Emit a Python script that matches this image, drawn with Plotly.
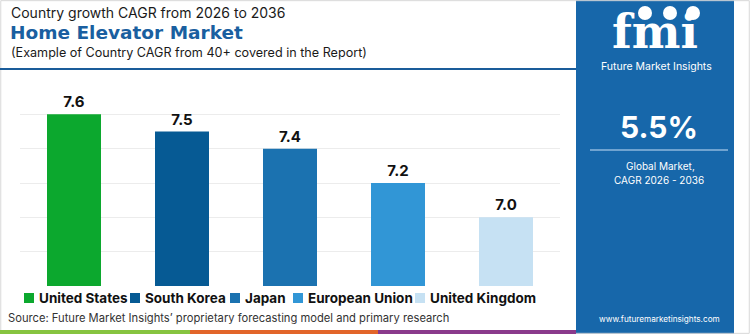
import plotly.graph_objects as go

categories = ["United States", "South Korea", "Japan", "European Union", "United Kingdom"]
values = [7.6, 7.5, 7.4, 7.2, 7.0]
colors = ["#0ca82e", "#065a94", "#1b72b0", "#3196d6", "#c6e1f3"]
value_labels = ["7.6", "7.5", "7.4", "7.2", "7.0"]

W, H = 750, 334
def px(x):
    return x / W
def py(y):
    return 1 - y / H

FONT = "Inter"
fig = go.Figure()
for c, v, col, lab in zip(categories, values, colors, value_labels):
    fig.add_trace(go.Bar(
        x=[c], y=[v], name=c, marker=dict(color=col, line=dict(width=0)),
        width=0.5, text=[lab], textposition="outside",
        textfont=dict(family=FONT, size=15, color="#111111", weight="bold"),
        cliponaxis=False, showlegend=False))

shapes = []
# right blue panel
shapes.append(dict(type="rect", xref="paper", yref="paper", x0=px(576), x1=px(734), y0=0, y1=1,
                   fillcolor="#1767aa", line=dict(width=0), layer="below"))
# outer thin border
shapes.append(dict(type="rect", xref="paper", yref="paper", x0=0.001, x1=0.999, y0=0.002, y1=0.998,
                   fillcolor="rgba(0,0,0,0)", line=dict(width=1, color="#d8d8d8"), layer="below"))
# title separator
shapes.append(dict(type="line", xref="paper", yref="paper", x0=0, x1=px(576), y0=py(69), y1=py(69),
                   line=dict(width=2, color="#1a5c9a")))
# line in panel
shapes.append(dict(type="line", xref="paper", yref="paper", x0=px(590), x1=px(728), y0=py(150), y1=py(150),
                   line=dict(width=1.5, color="#8fb7dc")))
# bottom color strip
for x0, x1, col in [(0, 190, "#86c440"), (190, 378, "#e2652a"), (378, 576, "#8a3a8c")]:
    shapes.append(dict(type="rect", xref="paper", yref="paper", x0=px(x0), x1=px(x1), y0=0, y1=py(330),
                       fillcolor=col, line=dict(width=0)))
# logo circles
for cx in [645, 670, 693]:
    shapes.append(dict(type="circle", xref="paper", yref="paper", x0=px(cx - 7), x1=px(cx + 7),
                       y0=py(20), y1=py(6), fillcolor="white", line=dict(width=0)))

ann = []
def t(x, y, s, size, color="#1a1a1a", bold=False, xanchor="left", family=FONT):
    ann.append(dict(x=px(x), y=py(y), xref="paper", yref="paper", text=s, showarrow=False,
                    xanchor=xanchor, yanchor="middle",
                    font=dict(family=family, size=size, color=color, weight="bold" if bold else "normal")))

t(9, 12.5, "Country growth CAGR from 2026 to 2036", 14)
t(8, 32.5, "Home Elevator Market", 18.5, color="#1a5fa0", bold=True, family="DejaVu Sans")
t(9, 52, "(Example of Country CAGR from 40+ covered in the Report)", 12.6)
t(6, 318, "Source: Future Market Insights’ proprietary forecasting model and primary research", 11.2, color="#333333")
t(655, 32, "fmi", 46, color="white", bold=True, xanchor="center", family="DejaVu Serif")
t(656, 66, "Future Market Insights", 10.5, color="white", xanchor="center")
t(659, 127, "5.5%", 30, color="white", bold=True, xanchor="center")
t(660, 166, "Global Market,", 10, color="white", xanchor="center")
t(659, 180, "CAGR 2026 - 2036", 10, color="white", xanchor="center")
t(659, 319, "www.futuremarketinsights.com", 8.2, color="white", xanchor="center")

# manual legend
legend_x = [24, 130, 230, 293, 415]
for c, col, lx in zip(categories, colors, legend_x):
    shapes.append(dict(type="rect", xref="paper", yref="paper", x0=px(lx), x1=px(lx + 10),
                       y0=py(303), y1=py(293), fillcolor=col, line=dict(width=0)))
    t(lx + 13, 298, c, 13.5, color="#111111", bold=True)

fig.update_layout(
    width=W, height=H, margin=dict(l=0, r=0, t=0, b=0),
    paper_bgcolor="white", plot_bgcolor="white",
    barmode="overlay", bargap=0.5,
    xaxis=dict(domain=[px(20), px(560)], showticklabels=False, showgrid=False, zeroline=False,
               showline=False, ticks=""),
    yaxis=dict(domain=[py(286), py(80)], range=[6.6, 7.8], dtick=0.2, tick0=6.6,
               showticklabels=False, showgrid=True, gridcolor="#ececec", gridwidth=1,
               zeroline=False, showline=False, ticks=""),
    shapes=shapes, annotations=ann, showlegend=False,
)
fig.write_html("out.html")
